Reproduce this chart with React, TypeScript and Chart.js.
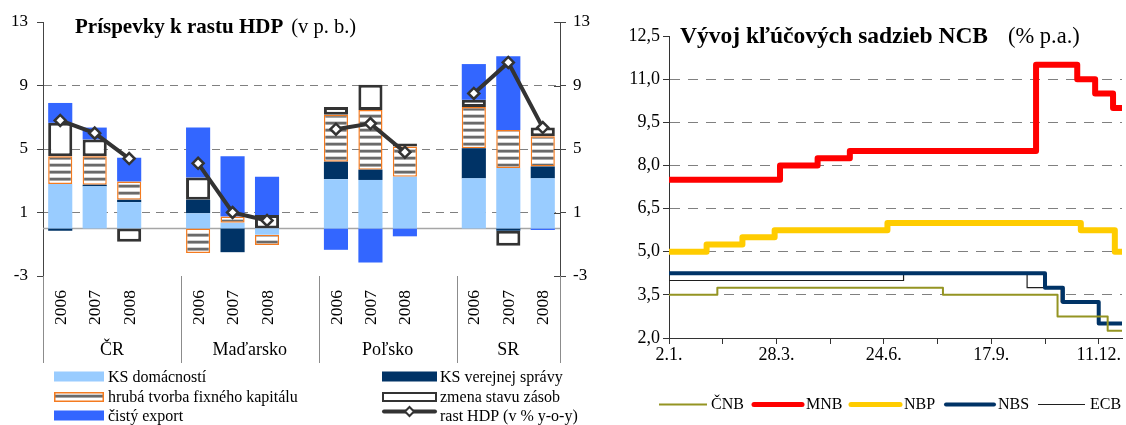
import React, { useEffect, useRef } from 'react';
import { Chart, registerables } from 'chart.js';

Chart.register(...registerables);

const SERIF = "'Liberation Serif', 'Times New Roman', Times, serif";

// ---------- Príspevky k rastu HDP (v p. b.) ----------
const countries = ['ČR', 'Maďarsko', 'Poľsko', 'SR'];
// three years per country, an empty slot separating the countries
const slotLabels = ['2006', '2007', '2008', '', '2006', '2007', '2008', '', '2006', '2007', '2008', '', '2006', '2007', '2008'];
const ksDomacnosti = [2.8, 2.65, 1.65, null, 0.95, 0.35, -0.4, null, 3.1, 3.05, 3.25, null, 3.15, 3.8, 3.15];
const ksVerejnejSpravy = [-0.15, 0.1, 0.15, null, 0.85, -1.5, 0, null, 1.1, 0.65, 0, null, 1.9, -0.15, 0.75];
const hrubaTvorbaFK = [1.75, 1.8, 1.15, null, -1.55, 0.4, -0.65, null, 2.95, 3.75, 1.9, null, 2.6, 2.4, 1.9];
const zmenaZasob = [2.1, 1.05, -0.85, null, 1.4, 0, 0.85, null, 0.5, 1.6, 0.2, null, 0.45, -0.95, 0.55];
const cistyExport = [1.25, 0.75, 1.5, null, 3.15, 3.8, 2.4, null, -1.35, -2.15, -0.5, null, 2.25, 4.65, -0.1];
const rastHdp = [6.8, 6.0, 4.4, null, 4.1, 1.0, 0.5, null, 6.25, 6.6, 4.8, null, 8.5, 10.45, 6.35];
const hdpTicksMin = -3;
const hdpTicksMax = 13;
const hdpTickStep = 4;

// ---------- Vývoj kľúčových sadzieb NCB (% p.a.) ----------
// x = index of the business day in 2008, y = rate valid from that day
const LAST_DAY = 253;
const axisTickDays = [0, 30, 60, 90, 120, 150, 180, 210, 240];
const axisDayLabels: Record<number, string> = { 0: '2.1.', 60: '28.3.', 120: '24.6.', 180: '17.9.', 240: '11.12.' };
const cnbDays = [0, 27, 153, 217, 245];
const cnbRates = [3.5, 3.75, 3.5, 2.75, 2.25];
const mnbDays = [0, 62, 83, 101, 205, 228, 238, 248];
const mnbRates = [7.5, 8.0, 8.25, 8.5, 11.5, 11.0, 10.5, 10.0];
const nbpDays = [0, 21, 41, 59, 122, 230, 249];
const nbpRates = [5.0, 5.25, 5.5, 5.75, 6.0, 5.75, 5.0];
const nbsDays = [0, 210, 220, 240];
const nbsRates = [4.25, 3.75, 3.25, 2.5];
const ecbDays = [0, 131, 200, 219, 240];
const ecbRates = [4.0, 4.25, 3.75, 3.25, 2.5];

const C = {
  lightBlue: '#99CCFF',
  navy: '#003366',
  blue: '#3366FF',
  orange: '#F47B20',
  dark: '#333333',
  axis: '#444444',
  sep: '#8C8C8C',
  grid: '#808080',
};

function makeStripePattern(): CanvasPattern | string {
  const c = document.createElement('canvas');
  c.width = 4;
  c.height = 7;
  const g = c.getContext('2d');
  if (!g) return '#999';
  const rows = ['#ffffff', '#ffffff', '#d2d2d2', '#6a6a6a', '#6a6a6a', '#a8a8a8', '#ffffff'];
  rows.forEach((col, i) => {
    g.fillStyle = col;
    g.fillRect(0, i, 4, 1);
  });
  return g.createPattern(c, 'repeat') || '#999';
}

function stepSeries(days: number[], rates: number[]) {
  const pts = days.map((d, i) => ({ x: d, y: rates[i] }));
  pts.push({ x: LAST_DAY, y: rates[rates.length - 1] });
  return pts;
}

const LEFT_W = 610;
const RIGHT_W = 516;
const H = 425;

export default function App() {
  const leftRef = useRef<HTMLCanvasElement>(null);
  const rightRef = useRef<HTMLCanvasElement>(null);

  useEffect(() => {
    const stripes = makeStripePattern();

    // ------------ contributions chart ------------
    const leftDecor = {
      id: 'leftDecor',
      beforeDatasetsDraw(chart: any) {
        const { ctx, chartArea } = chart;
        const y0 = chart.scales.y.getPixelForValue(0);
        ctx.save();
        ctx.strokeStyle = '#A6A6A6';
        ctx.lineWidth = 1.5;
        ctx.beginPath();
        ctx.moveTo(chartArea.left, y0);
        ctx.lineTo(chartArea.right, y0);
        ctx.stroke();
        ctx.restore();
      },
      afterDraw(chart: any) {
        const { ctx, chartArea } = chart;
        const xs = chart.scales.x;
        const ys = chart.scales.y;
        const slot = xs.getPixelForValue(1) - xs.getPixelForValue(0);
        ctx.save();

        // inner halves of the right axis tick marks
        ctx.strokeStyle = C.axis;
        ctx.lineWidth = 1;
        for (let v = hdpTicksMin; v <= hdpTicksMax; v += hdpTickStep) {
          const y = Math.round(ys.getPixelForValue(v)) + 0.5;
          ctx.beginPath();
          ctx.moveTo(chartArea.right - 6, y);
          ctx.lineTo(chartArea.right, y);
          ctx.stroke();
        }

        // year labels (rotated)
        ctx.fillStyle = '#000';
        ctx.font = `17.5px ${SERIF}`;
        slotLabels.forEach((lab, i) => {
          if (!lab) return;
          const x = xs.getPixelForValue(i);
          ctx.save();
          ctx.translate(x, chartArea.bottom + 14);
          ctx.rotate(-Math.PI / 2);
          ctx.textAlign = 'right';
          ctx.textBaseline = 'middle';
          ctx.fillText(lab, 0, 1);
          ctx.restore();
        });

        // country groups, separators and axis extensions
        const lowY = 363;
        ctx.strokeStyle = C.sep;
        ctx.lineWidth = 1;
        const bounds: number[] = [];
        countries.forEach((_, g) => bounds.push(xs.getPixelForValue(4 * g) - slot / 2));
        bounds.push(chartArea.right);
        bounds.forEach((bx) => {
          const x = Math.round(bx) + 0.5;
          ctx.beginPath();
          ctx.moveTo(x, chartArea.bottom);
          ctx.lineTo(x, lowY);
          ctx.stroke();
        });
        ctx.font = `18px ${SERIF}`;
        ctx.textAlign = 'center';
        ctx.textBaseline = 'alphabetic';
        countries.forEach((name, g) => {
          const cx = (bounds[g] + bounds[g + 1]) / 2;
          ctx.fillText(name, cx, 355);
        });

        // title
        ctx.textAlign = 'left';
        ctx.font = `bold 21px ${SERIF}`;
        const t1 = 'Príspevky k rastu HDP';
        ctx.fillText(t1, 75, 33);
        const w1 = ctx.measureText(t1).width;
        ctx.font = `20.5px ${SERIF}`;
        ctx.fillText('(v p. b.)', 75 + w1 + 8, 33);

        // legend
        const ds = chart.data.datasets;
        const rows = [376.5, 397, 415.5];
        const items = [
          { ds: 0, col: 0, row: 0, kind: 'fill' },
          { ds: 2, col: 0, row: 1, kind: 'stripes' },
          { ds: 4, col: 0, row: 2, kind: 'fill' },
          { ds: 1, col: 1, row: 0, kind: 'fill' },
          { ds: 3, col: 1, row: 1, kind: 'box' },
          { ds: 5, col: 1, row: 2, kind: 'line' },
        ];
        const colX = [54, 382];
        const colW = [50, 55];
        const textX = [108, 440];
        ctx.font = `16px ${SERIF}`;
        ctx.textBaseline = 'middle';
        items.forEach((it) => {
          const d = ds[it.ds];
          const x = colX[it.col];
          const w = colW[it.col];
          const y = rows[it.row];
          if (it.kind === 'fill') {
            ctx.fillStyle = d.backgroundColor;
            ctx.fillRect(x, y - 5, w, 10);
          } else if (it.kind === 'stripes') {
            ctx.fillStyle = stripes;
            ctx.fillRect(x, y - 5, w, 10);
            ctx.strokeStyle = C.orange;
            ctx.lineWidth = 1.5;
            ctx.strokeRect(x + 0.75, y - 4.25, w - 1.5, 8.5);
          } else if (it.kind === 'box') {
            ctx.fillStyle = '#fff';
            ctx.fillRect(x, y - 5, w, 10);
            ctx.strokeStyle = C.dark;
            ctx.lineWidth = 2;
            ctx.strokeRect(x + 1, y - 4, w - 2, 8);
          } else {
            const ly = y - 4;
            ctx.strokeStyle = C.dark;
            ctx.lineWidth = 4;
            ctx.lineCap = 'round';
            ctx.beginPath();
            ctx.moveTo(x + 2, ly);
            ctx.lineTo(x + w - 2, ly);
            ctx.stroke();
            ctx.lineCap = 'butt';
            const cx = x + w / 2;
            const r = 4.5;
            ctx.beginPath();
            ctx.moveTo(cx, ly - r);
            ctx.lineTo(cx + r, ly);
            ctx.lineTo(cx, ly + r);
            ctx.lineTo(cx - r, ly);
            ctx.closePath();
            ctx.fillStyle = '#fff';
            ctx.fill();
            ctx.lineWidth = 2;
            ctx.stroke();
          }
          ctx.fillStyle = '#000';
          ctx.fillText(d.label, textX[it.col], y + 1);
        });
        ctx.restore();
      },
    };

    const tickFont = { family: SERIF, size: 17 };
    const left = new Chart(leftRef.current as HTMLCanvasElement, {
      type: 'bar',
      data: {
        labels: slotLabels,
        datasets: [
          { label: 'KS domácností', data: ksDomacnosti, backgroundColor: C.lightBlue, borderWidth: 0 },
          { label: 'KS verejnej správy', data: ksVerejnejSpravy, backgroundColor: C.navy, borderWidth: 0 },
          {
            label: 'hrubá tvorba fixného kapitálu',
            data: hrubaTvorbaFK,
            backgroundColor: stripes as any,
            borderColor: C.orange,
            borderWidth: 1.5,
            borderSkipped: false,
          },
          {
            label: 'zmena stavu zásob',
            data: zmenaZasob,
            backgroundColor: '#ffffff',
            borderColor: C.dark,
            borderWidth: 3,
            borderSkipped: false,
          },
          { label: 'čistý export', data: cistyExport, backgroundColor: C.blue, borderWidth: 0 },
          {
            type: 'line',
            label: 'rast HDP (v % y-o-y)',
            data: rastHdp,
            borderColor: C.dark,
            borderWidth: 4,
            pointStyle: 'rectRot',
            pointRadius: 5.5,
            pointBackgroundColor: '#ffffff',
            pointBorderColor: C.dark,
            pointBorderWidth: 2.5,
            spanGaps: false,
            order: -1,
          } as any,
        ],
      },
      options: {
        animation: false,
        responsive: false,
        events: [],
        layout: { padding: { top: 22, left: 0, right: 0, bottom: 0 } },
        datasets: { bar: { categoryPercentage: 1, barPercentage: 0.7 } },
        plugins: { legend: { display: false }, tooltip: { enabled: false } },
        scales: {
          x: {
            stacked: true,
            ticks: { display: false },
            grid: { display: false },
            border: { display: false },
            afterFit: (s: any) => {
              s.height = H - 276;
            },
          },
          y: {
            stacked: true,
            min: hdpTicksMin,
            max: hdpTicksMax,
            ticks: { stepSize: hdpTickStep, font: tickFont, color: '#000', padding: 9 },
            grid: {
              color: (c: any) => (c.tick && c.tick.value > hdpTicksMin && c.tick.value < hdpTicksMax ? C.grid : 'rgba(0,0,0,0)'),
              tickColor: C.axis,
              tickLength: 6,
            },
            border: { color: C.axis, dash: [8, 6] },
            afterFit: (s: any) => {
              s.width = 43;
            },
          },
          y2: {
            position: 'right',
            min: hdpTicksMin,
            max: hdpTicksMax,
            ticks: { stepSize: hdpTickStep, font: tickFont, color: '#000', padding: 7 },
            grid: { drawOnChartArea: false, tickColor: C.axis, tickLength: 6 },
            border: { color: C.axis },
            afterFit: (s: any) => {
              s.width = LEFT_W - 560;
            },
          },
        },
      } as any,
      plugins: [leftDecor],
    });

    // ------------ policy rates chart ------------
    const rateSeries = [
      { label: 'ČNB', days: cnbDays, rates: cnbRates, color: '#949422', width: 2 },
      { label: 'MNB', days: mnbDays, rates: mnbRates, color: '#FF0000', width: 6 },
      { label: 'NBP', days: nbpDays, rates: nbpRates, color: '#FFCC00', width: 6 },
      { label: 'NBS', days: nbsDays, rates: nbsRates, color: '#003366', width: 4 },
      { label: 'ECB', days: ecbDays, rates: ecbRates, color: '#1f1f1f', width: 1.2 },
    ];

    const rightDecor = {
      id: 'rightDecor',
      afterDraw(chart: any) {
        const { ctx } = chart;
        ctx.save();
        ctx.fillStyle = '#000';
        ctx.textBaseline = 'alphabetic';
        ctx.textAlign = 'left';
        ctx.font = `bold 23.5px ${SERIF}`;
        const t = 'Vývoj kľúčových sadzieb NCB';
        const tx = 680 - LEFT_W;
        ctx.fillText(t, tx, 43);
        ctx.font = `22.5px ${SERIF}`;
        ctx.fillText('(% p.a.)', 1008 - LEFT_W, 43);

        // legend
        const ly = 404;
        const entries = [
          { s: 0, x0: 659, x1: 707, tx: 711 },
          { s: 1, x0: 754, x1: 802, tx: 806 },
          { s: 2, x0: 851, x1: 900, tx: 904 },
          { s: 3, x0: 946, x1: 994, tx: 998 },
          { s: 4, x0: 1038, x1: 1085, tx: 1090 },
        ];
        ctx.font = `16px ${SERIF}`;
        ctx.textBaseline = 'middle';
        entries.forEach((e) => {
          const d = chart.data.datasets[e.s];
          ctx.strokeStyle = d.borderColor;
          ctx.lineWidth = Math.min(d.borderWidth, 5);
          ctx.lineCap = d.borderWidth > 2 ? 'round' : 'butt';
          ctx.beginPath();
          ctx.moveTo(e.x0 - LEFT_W, ly + 0.5);
          ctx.lineTo(e.x1 - LEFT_W, ly + 0.5);
          ctx.stroke();
          ctx.fillStyle = '#000';
          ctx.fillText(d.label, e.tx - LEFT_W, ly + 1);
        });
        ctx.restore();
      },
    };

    const rateFont = { family: SERIF, size: 18 };
    const right = new Chart(rightRef.current as HTMLCanvasElement, {
      type: 'line',
      data: {
        datasets: rateSeries.map((s) => ({
          label: s.label,
          data: stepSeries(s.days, s.rates),
          stepped: 'before',
          borderColor: s.color,
          borderWidth: s.width,
          borderCapStyle: 'round',
          borderJoinStyle: 'round',
          pointRadius: 0,
          fill: false,
        })),
      },
      options: {
        animation: false,
        responsive: false,
        events: [],
        layout: { padding: { top: 36, right: RIGHT_W - (1122 - LEFT_W), left: 0, bottom: 0 } },
        plugins: { legend: { display: false }, tooltip: { enabled: false } },
        scales: {
          x: {
            type: 'linear',
            min: 0,
            max: LAST_DAY,
            afterBuildTicks: (s: any) => {
              s.ticks = axisTickDays.map((v) => ({ value: v }));
            },
            ticks: {
              callback: (v: any) => axisDayLabels[v] ?? '',
              font: rateFont,
              color: '#000',
              maxRotation: 0,
              autoSkip: false,
              padding: 0,
            },
            grid: { drawOnChartArea: false, tickColor: C.dark, tickLength: 6 },
            border: { color: C.dark },
            afterFit: (s: any) => {
              s.height = H - 338;
            },
          },
          y: {
            min: 2,
            max: 12.5,
            ticks: {
              stepSize: 1.5,
              callback: (v: any) => Number(v).toFixed(1).replace('.', ','),
              font: rateFont,
              color: '#000',
              padding: 3,
            },
            grid: {
              color: (c: any) => (c.tick && c.tick.value > 2.01 && c.tick.value < 12.49 ? C.grid : 'rgba(0,0,0,0)'),
              tickColor: C.dark,
              tickLength: 6,
            },
            border: { color: C.dark, dash: [10, 8] },
            afterFit: (s: any) => {
              s.width = 669 - LEFT_W;
            },
          },
        },
      } as any,
      plugins: [rightDecor],
    });

    return () => {
      left.destroy();
      right.destroy();
    };
  }, []);

  return (
    <div style={{ position: 'absolute', left: 0, top: 0, width: LEFT_W + RIGHT_W, height: H, background: '#fff' }}>
      <canvas
        ref={leftRef}
        width={LEFT_W}
        height={H}
        style={{ position: 'absolute', left: 0, top: 0, width: LEFT_W, height: H }}
      />
      <canvas
        ref={rightRef}
        width={RIGHT_W}
        height={H}
        style={{ position: 'absolute', left: LEFT_W, top: 0, width: RIGHT_W, height: H }}
      />
    </div>
  );
}
